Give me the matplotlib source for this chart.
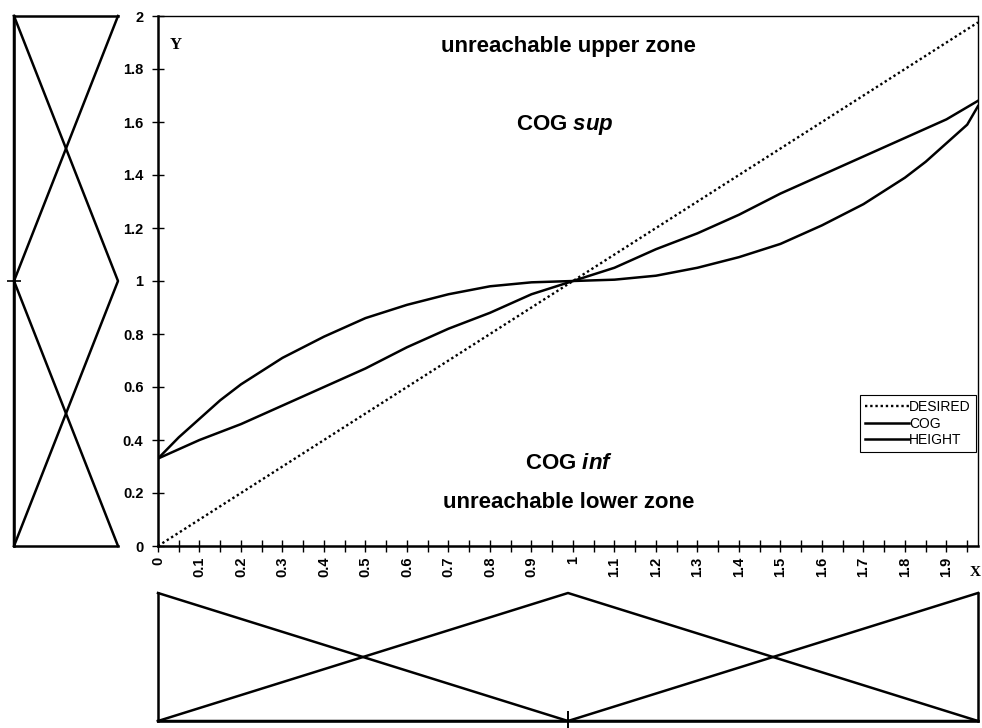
import matplotlib
matplotlib.use("Agg")
import matplotlib.pyplot as plt

plt.rcParams['font.family'] = ['Liberation Sans', 'DejaVu Sans']
plt.rcParams['mathtext.fontset'] = 'custom'
plt.rcParams['mathtext.it'] = 'Liberation Sans:italic:bold'
plt.rcParams['mathtext.rm'] = 'Liberation Sans:bold'

# ---------------- data ----------------
x_desired = [0.0, 1.976]
y_desired = [0.0, 1.976]

x_cog = [0.0, 0.1, 0.2, 0.3, 0.4, 0.5, 0.6, 0.7, 0.8, 0.9, 1.0,
         1.1, 1.2, 1.3, 1.4, 1.5, 1.6, 1.7, 1.8, 1.9, 1.976]
y_cog = [0.33, 0.40, 0.46, 0.53, 0.60, 0.67, 0.75, 0.82, 0.88, 0.95, 1.0,
         1.05, 1.12, 1.18, 1.25, 1.33, 1.40, 1.47, 1.54, 1.61, 1.68]

x_height = [0.0, 0.025, 0.05, 0.1, 0.15, 0.2, 0.25, 0.3, 0.4, 0.5, 0.6, 0.7, 0.8, 0.9, 1.0,
            1.1, 1.2, 1.3, 1.4, 1.5, 1.6, 1.7, 1.75, 1.8, 1.85, 1.9, 1.95, 1.976]
y_height = [0.33, 0.37, 0.41, 0.48, 0.55, 0.61, 0.66, 0.71, 0.79, 0.86, 0.91, 0.95, 0.98, 0.995, 1.0,
            1.005, 1.02, 1.05, 1.09, 1.14, 1.21, 1.29, 1.34, 1.39, 1.45, 1.52, 1.59, 1.66]

xtick_vals = [0.0, 0.1, 0.2, 0.3, 0.4, 0.5, 0.6, 0.7, 0.8, 0.9, 1.0,
              1.1, 1.2, 1.3, 1.4, 1.5, 1.6, 1.7, 1.8, 1.9]
xtick_labels = ['0', '0.1', '0.2', '0.3', '0.4', '0.5', '0.6', '0.7', '0.8', '0.9', '1',
                '1.1', '1.2', '1.3', '1.4', '1.5', '1.6', '1.7', '1.8', '1.9']
ytick_vals = [0.0, 0.2, 0.4, 0.6, 0.8, 1.0, 1.2, 1.4, 1.6, 1.8, 2.0]
ytick_labels = ['0', '0.2', '0.4', '0.6', '0.8', '1', '1.2', '1.4', '1.6', '1.8', '2']

# membership functions (universe points 0, 1, 2)
mf_points = [0.0, 1.0, 2.0]
mf_low = [1.0, 0.0, 0.0]
mf_med = [0.0, 1.0, 0.0]
mf_high = [0.0, 0.0, 1.0]

W, H = 982, 728
fig = plt.figure(figsize=(W / 100, H / 100), dpi=100)

# ---------------- main axes ----------------
L, R, B, T = 158, 978, 546, 16
ax = fig.add_axes([L / W, 1 - B / H, (R - L) / W, (B - T) / H])
ax.plot(x_desired, y_desired, linestyle=(0, (1, 1.2)), color='black', lw=1.7, label='DESIRED')
ax.plot(x_cog, y_cog, color='black', lw=1.8, label='COG')
ax.plot(x_height, y_height, color='black', lw=1.8, label='HEIGHT')
ax.set_xlim(0, 1.976)
ax.set_ylim(0, 2)
ax.set_xticks(xtick_vals)
ax.set_xticklabels(xtick_labels, rotation=90, fontsize=10.5, fontweight='bold')
ax.set_xticks([v + 0.05 for v in xtick_vals], minor=True)
ax.set_yticks(ytick_vals)
ax.set_yticklabels(ytick_labels, fontsize=10.5, fontweight='bold')
ax.tick_params(axis='both', which='both', direction='inout', length=9, width=1.0, pad=3)
ax.tick_params(axis='y', pad=6)
for s in ['left', 'bottom']:
    ax.spines[s].set_linewidth(1.8)
for s in ['top', 'right']:
    ax.spines[s].set_linewidth(1.0)
    ax.spines[s].set_linestyle((0, (2, 1)))

txt_kw = dict(ha='center', va='center', fontsize=16, fontweight='bold')
ax.text(0.99, 1.885, 'unreachable upper zone', **txt_kw)
ax.text(0.98, 1.59, r'COG $sup$', **txt_kw)
ax.text(0.99, 0.31, r'COG $inf$', **txt_kw)
ax.text(0.99, 0.165, 'unreachable lower zone', **txt_kw)
ax.text(0.043, 1.89, 'Y', family='Liberation Serif', fontweight='bold', fontsize=12,
        ha='center', va='center')
fig.text(981 / W, 1 - 572 / H, 'X', family='Liberation Serif', fontweight='bold',
         fontsize=11, ha='right', va='center')

leg = ax.legend(loc='lower right', bbox_to_anchor=(0.997, 0.177), fontsize=10,
                frameon=True, fancybox=False, edgecolor='black', framealpha=1,
                handlelength=3.2, handletextpad=0.0, borderpad=0.35, labelspacing=0.2,
                borderaxespad=0)
leg.get_frame().set_linewidth(0.8)

# ---------------- left (Y) membership panel ----------------
axl = fig.add_axes([14 / W, 1 - B / H, (118 - 14) / W, (B - T) / H])
for mf in (mf_low, mf_med, mf_high):
    axl.plot(mf, mf_points, color='black', lw=1.8, clip_on=False)
axl.set_xlim(0, 1)
axl.set_ylim(0, 2)
axl.set_xticks([])
axl.set_yticks([1.0])
axl.set_yticklabels([''])
axl.tick_params(axis='y', direction='inout', length=10, width=1.2)
axl.spines['right'].set_visible(False)
for s in ['left', 'top', 'bottom']:
    axl.spines[s].set_linewidth(1.8)

# ---------------- bottom (X) membership panel ----------------
axb = fig.add_axes([L / W, 7 / H, (R - L) / W, (721 - 593) / H])
for mf in (mf_low, mf_med, mf_high):
    axb.plot(mf_points, mf, color='black', lw=1.8, clip_on=False)
axb.set_xlim(0, 2)
axb.set_ylim(0, 1)
axb.set_yticks([])
axb.set_xticks([1.0])
axb.set_xticklabels([''])
axb.tick_params(axis='x', direction='inout', length=14, width=1.4)
axb.spines['top'].set_visible(False)
for s in ['left', 'right', 'bottom']:
    axb.spines[s].set_linewidth(1.8)

fig.savefig('out.png', dpi=100)
